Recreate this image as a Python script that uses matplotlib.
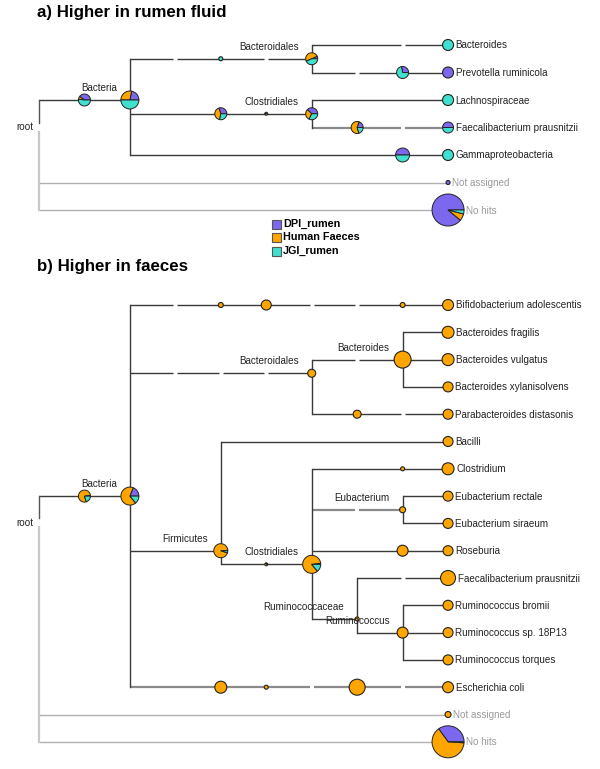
import matplotlib.pyplot as plt
from matplotlib.patches import Wedge, Circle, Rectangle

plt.rcParams['font.family'] = ['Liberation Sans', 'DejaVu Sans']

groups = ['DPI_rumen', 'Human Faeces', 'JGI_rumen']
colors = ['#7b68ee', '#ffa500', '#40e0d0']

# ---- panel a: higher in rumen fluid ----
# nodes in tree order; parent index, rank column, share of reads per group, node size
a_names = ['root', '', 'Bacteria', '', 'Bacteroidales', 'Bacteroides', '',
           'Prevotella ruminicola', '', '', 'Clostridiales', 'Lachnospiraceae', '',
           'Faecalibacterium prausnitzii', '', 'Gammaproteobacteria',
           'Not assigned', 'No hits']
a_parents = [-1, 0, 1, 2, 3, 4, 4, 6, 2, 8, 9, 10, 10, 12, 2, 14, 0, 0]
a_ranks = [0, 1, 2, 4, 6, 9, 8, 9, 4, 5, 6, 9, 7, 9, 8, 9, 9, 9]
a_fracs = [(0, 0, 0), (0.40, 0.08, 0.52), (0.22, 0.28, 0.50), (0, 0, 1),
           (0.07, 0.50, 0.43), (0, 0, 1), (0.28, 0, 0.72), (1, 0, 0),
           (0.30, 0.42, 0.28), (0.5, 0.5, 0), (0.38, 0.30, 0.32), (0, 0, 1),
           (0.20, 0.60, 0.20), (0.5, 0, 0.5), (0.5, 0, 0.5), (0, 0, 1),
           (1, 0, 0), (0.89, 0.07, 0.04)]
a_sizes = [0, 6, 9, 2, 6, 5.5, 6, 5.5, 6, 1.5, 6, 5.5, 6, 5.5, 7, 5.5, 2, 16]
a_gaps = [[], [], [], [3], [5], [8], [7], [], [], [], [], [], [], [8], [], [], [], []]
a_light = [12, 13]

# ---- panel b: higher in faeces ----
b_names = ['root', '', 'Bacteria', '', '', '', 'Bifidobacterium adolescentis',
           'Bacteroidales', 'Bacteroides', 'Bacteroides fragilis',
           'Bacteroides vulgatus', 'Bacteroides xylanisolvens', '',
           'Parabacteroides distasonis', 'Firmicutes', 'Bacilli', '',
           'Clostridiales', '', 'Clostridium', 'Eubacterium', 'Eubacterium rectale',
           'Eubacterium siraeum', '', 'Roseburia', 'Ruminococcaceae',
           'Faecalibacterium prausnitzii', 'Ruminococcus', 'Ruminococcus bromii',
           'Ruminococcus sp. 18P13', 'Ruminococcus torques', '', '', '',
           'Escherichia coli', 'Not assigned', 'No hits']
b_parents = [-1, 0, 1, 2, 3, 4, 5, 2, 7, 8, 8, 8, 7, 12, 2, 14, 14, 16, 17, 18,
             17, 20, 20, 17, 23, 17, 25, 25, 27, 27, 27, 2, 31, 32, 33, 0, 0]
b_ranks = [0, 1, 2, 4, 5, 8, 9, 6, 8, 9, 9, 9, 7, 9, 4, 9, 5, 6, 8, 9,
           8, 9, 9, 8, 9, 7, 9, 8, 9, 9, 9, 4, 5, 7, 9, 9, 9]
b_fracs = [(0, 0, 0), (0.02, 0.78, 0.20), (0.19, 0.67, 0.14)] + [(0, 1, 0)] * 11 + \
          [(0.01, 0.94, 0.05), (0, 1, 0), (0.3, 0.7, 0), (0.02, 0.84, 0.14)] + \
          [(0, 1, 0)] * 18 + [(0.35, 0.64, 0.01)]
b_sizes = [0, 6, 9, 2.5, 5, 2.5, 5.5, 4, 8.5, 6, 6, 5, 4, 5, 7, 5, 1.5, 9, 2, 6,
           3, 5, 5, 5.5, 5, 2, 7.5, 5.5, 5, 5, 5, 6, 2, 8, 5.5, 3, 16]
b_gaps = [[], [], [], [3], [], [6, 7], [], [3, 4, 5], [7], [], [], [], [], [8],
          [], [], [], [], [], [], [7], [], [], [], [], [], [8], [], [], [], [],
          [], [], [6], [8], [], []]
b_light = [20, 31, 32, 33, 34]

X0, DX = 39, 45.45


def layout(parents, ranks, top, step):
    n = len(parents)
    kids = [[] for _ in range(n)]
    for i, p in enumerate(parents):
        if p >= 0:
            kids[p].append(i)
    lo = [0.0] * n
    hi = [0.0] * n
    row = 0
    for i in range(n):
        if not kids[i]:
            lo[i] = hi[i] = top + row * step
            row += 1
    for i in reversed(range(n)):
        if kids[i]:
            lo[i] = min(lo[c] for c in kids[i])
            hi[i] = max(hi[c] for c in kids[i])
    ys = [(l + h) / 2 for l, h in zip(lo, hi)]
    xs = [X0 + r * DX for r in ranks]
    return xs, ys, kids


def draw_pie(ax, x, y, r, fr):
    used = [(f, c) for f, c in zip(fr, colors) if f > 0]
    if len(used) == 1:
        ax.add_patch(Circle((x, y), r, facecolor=used[0][1], edgecolor='#222', lw=0.8, zorder=3))
        return
    tot = sum(fr)
    start = 0
    for f, c in used:
        ang = 360 * f / tot
        # y axis is flipped, so negate angles to go counterclockwise on screen
        ax.add_patch(Wedge((x, y), r, -(start + ang), -start, facecolor=c,
                           edgecolor='#222', lw=0.7, zorder=3))
        start += ang


def hline(ax, x1, x2, y, gaps, color, lw):
    cuts = sorted(X0 + g * DX for g in gaps)
    pts = [x1]
    for c in cuts:
        pts += [c - 2, c + 2]
    pts.append(x2)
    for i in range(0, len(pts), 2):
        ax.plot([pts[i], pts[i + 1]], [y, y], color=color, lw=lw, zorder=1,
                solid_capstyle='butt')


def draw_tree(ax, names, parents, ranks, fracs, sizes, gaps, light, top, step):
    xs, ys, kids = layout(parents, ranks, top, step)
    for i, p in enumerate(parents):
        if p < 0:
            continue
        if p == 0 and names[i] in ('Not assigned', 'No hits'):
            col, lw = '#b0b0b0', 1.0
        elif i in light:
            col, lw = '#8a8a8a', 1.6
        else:
            col, lw = '#3a3a3a', 1.0
        hline(ax, xs[p], xs[i], ys[i], gaps[i], col, lw)
    for i, ch in enumerate(kids):
        if len(ch) < 2:
            continue
        y1 = min(ys[c] for c in ch)
        y2 = max(ys[c] for c in ch)
        if parents[i] < 0:
            ax.plot([xs[i], xs[i]], [y1, ys[i] - 5], color='#555555', lw=1.0, zorder=1)
            ax.plot([xs[i], xs[i]], [ys[i] + 4, y2], color='#c8c8c8', lw=1.6, zorder=1)
            ax.text(xs[i] - 6, ys[i], names[i], ha='right', va='center', fontsize=7.1,
                    color='#222')
        else:
            ax.plot([xs[i], xs[i]], [y1, y2], color='#3a3a3a', lw=1.0, zorder=1)
    for i in range(1, len(parents)):
        draw_pie(ax, xs[i], ys[i], sizes[i], fracs[i])
        if not names[i]:
            continue
        if kids[i]:
            ax.text(xs[i] - 13, ys[i] - 12, names[i], ha='right', va='center',
                    fontsize=7.1, color='#222', zorder=4)
        else:
            grey = names[i] in ('Not assigned', 'No hits')
            ax.text(xs[i] + sizes[i] + 2, ys[i] + 0.5, names[i], ha='left', va='center',
                    fontsize=7.1, color='#9a9a9a' if grey else '#222', zorder=4)


fig = plt.figure(figsize=(6, 7.69), dpi=100)
ax = fig.add_axes([0, 0, 1, 1])
ax.set_xlim(0, 600)
ax.set_ylim(769, 0)
ax.axis('off')

ax.text(37, 13, 'a) Higher in rumen fluid', fontsize=12.2, fontweight='bold', va='center')
draw_tree(ax, a_names, a_parents, a_ranks, a_fracs, a_sizes, a_gaps, a_light, 45, 27.5)

for k, (g, c) in enumerate(zip(groups, colors)):
    ax.add_patch(Rectangle((272, 219.5 + k * 13.5), 9, 9, facecolor=c, edgecolor='#555',
                           lw=0.8))
    ax.text(283, 224 + k * 13.5, g, fontsize=7.8, fontweight='bold', va='center')

ax.text(37, 267, 'b) Higher in faeces', fontsize=12.2, fontweight='bold', va='center')
draw_tree(ax, b_names, b_parents, b_ranks, b_fracs, b_sizes, b_gaps, b_light, 305, 27.3)

fig.savefig('out.png', dpi=100)
